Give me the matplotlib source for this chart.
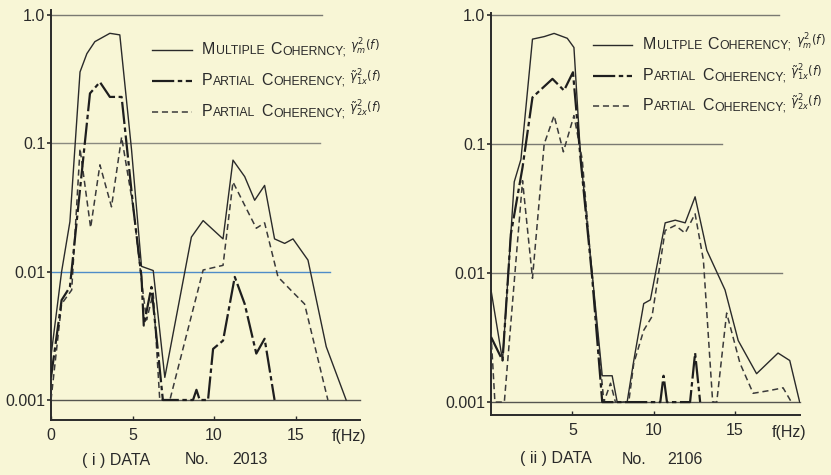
import numpy as np
import matplotlib
matplotlib.use("Agg")
import matplotlib.pyplot as plt
from matplotlib.lines import Line2D

plt.rcParams['font.family'] = ['Liberation Sans', 'DejaVu Sans']
plt.rcParams['mathtext.fontset'] = 'dejavusans'

W, H = 831, 475
BG = '#f8f6d6'
INK = '#2a2a2a'

# ---- data (frequency in Hz, coherency) ----
# (i) DATA No. 2013
f_mult_2013 = [0, 0.65, 1.16, 1.78, 2.20, 2.69, 3.61, 4.22, 4.94, 5.55, 6.27, 6.98, 8.61, 9.33,
               10.55, 11.16, 11.88, 12.49, 13.10, 13.71, 14.33, 14.84, 15.76, 16.88, 18.10]
mult_2013 = [0.0022, 0.010, 0.0245, 0.36, 0.50, 0.62, 0.72, 0.70, 0.089, 0.011, 0.0102, 0.0015, 0.0186, 0.025,
             0.018, 0.074, 0.055, 0.036, 0.047, 0.018, 0.0166, 0.018, 0.0123, 0.0026, 0.001]

f_p1x_2013 = [0, 0.65, 1.16, 2.39, 3.0, 3.61, 4.33, 5.04, 5.55, 5.69, 6.16, 6.86,
              8.71, 8.92, 9.12, 9.63, 9.94, 10.55, 11.27, 11.88, 12.59, 13.10, 13.71]
p1x_2013 = [0.0015, 0.006, 0.0076, 0.245, 0.30, 0.23, 0.23, 0.032, 0.0091, 0.0038, 0.0076, 0.001,
            0.001, 0.0012, 0.001, 0.001, 0.0025, 0.0029, 0.0091, 0.0056, 0.0023, 0.003, 0.001]

f_p2x_2013 = [0, 0.65, 1.27, 1.78, 2.43, 3.0, 3.71, 4.33, 5.04, 5.55, 5.86, 6.27, 6.67,
              7.29, 9.33, 10.55, 11.16, 12.18, 12.59, 13.10, 13.92, 14.84, 15.55, 16.98]
p2x_2013 = [0.001, 0.0056, 0.0072, 0.091, 0.022, 0.068, 0.032, 0.112, 0.032, 0.0085, 0.0042, 0.0068, 0.001,
            0.001, 0.0103, 0.0112, 0.050, 0.0276, 0.0218, 0.024, 0.0091, 0.0069, 0.0056, 0.001]

# (ii) DATA No. 2106
f_mult_2106 = [0, 0.71, 1.43, 1.84, 2.55, 3.27, 3.88, 4.69, 5.10, 5.51, 6.22, 6.84, 7.45, 7.76,
               8.37, 8.78, 9.39, 9.80, 10.71, 11.33, 11.94, 12.55, 13.27, 14.39, 15.20, 16.33,
               17.65, 18.37, 18.98]
mult_2106 = [0.0074, 0.0021, 0.051, 0.076, 0.65, 0.68, 0.72, 0.66, 0.56, 0.079, 0.010, 0.0016, 0.0016, 0.001,
             0.001, 0.0021, 0.0058, 0.0062, 0.0245, 0.0257, 0.0245, 0.039, 0.015, 0.0074, 0.003, 0.00166,
             0.0024, 0.0021, 0.001]

f_p1x_2106 = [0, 0.71, 1.22, 1.94, 2.55, 3.78, 4.49, 5.04, 5.51, 6.22, 6.84,
              10.41, 10.61, 10.82, 12.24, 12.55, 12.86]
p1x_2106 = [0.0032, 0.0021, 0.020, 0.066, 0.23, 0.32, 0.26, 0.36, 0.076, 0.0093, 0.001,
            0.001, 0.0016, 0.001, 0.001, 0.0024, 0.001]

f_p2x_2106 = [0, 0.24, 0.82, 1.94, 2.55, 3.27, 3.88, 4.45, 5.10, 5.61, 6.22, 6.94, 7.35, 7.65,
              8.47, 8.78, 9.39, 9.90, 10.71, 11.33, 11.94, 12.55, 13.06, 13.63, 13.88, 14.49,
              15.31, 16.12, 17.14, 17.96, 18.47]
p2x_2106 = [0.0034, 0.001, 0.001, 0.052, 0.0091, 0.10, 0.166, 0.087, 0.166, 0.076, 0.0093, 0.001, 0.0014, 0.001,
            0.001, 0.002, 0.0036, 0.0046, 0.0214, 0.0234, 0.0204, 0.0288, 0.0126, 0.001, 0.001, 0.0049,
            0.002, 0.00117, 0.00123, 0.00129, 0.001]

y_ticks = [1.0, 0.1, 0.01, 0.001]
y_ticklabels = ['1.0', '0.1', '0.01', '0.001']

legend_left = [("M", "ULTIPLE", "C", "OHERNCY;", r"$\gamma^2_m(f)$"),
               ("P", "ARTIAL", "C", "OHERENCY;", r"$\tilde{\gamma}^2_{1x}(f)$"),
               ("P", "ARTIAL", "C", "OHERENCY;", r"$\tilde{\gamma}^2_{2x}(f)$")]
legend_right = [("M", "ULTPLE", "C", "OHERENCY;", r"$\gamma^2_m(f)$"),
                ("P", "ARTIAL", "C", "OHERENCY;", r"$\tilde{\gamma}^2_{1x}(f)$"),
                ("P", "ARTIAL", "C", "OHERENCY;", r"$\tilde{\gamma}^2_{2x}(f)$")]

sty_mult = dict(color=INK, lw=1.0, ls='-')
sty_p1x = dict(color='#1e1e1e', lw=1.6, ls=(0, (10, 1.6, 2, 1.6)))
sty_p2x = dict(color='#3a3a3a', lw=1.1, ls=(0, (4, 2.5)))


def px(x, y):
    return x / W, 1 - y / H


fig = plt.figure(figsize=(W / 100, H / 100), dpi=100, facecolor=BG)


def make_axes(x0, x1, y0, y1, xmax, ylo, yhi, xticks, grid_ends, grid_colors):
    ax = fig.add_axes([x0 / W, 1 - y1 / H, (x1 - x0) / W, (y1 - y0) / H])
    ax.set_facecolor(BG)
    ax.set_yscale('log')
    ax.set_xlim(0, xmax)
    ax.set_ylim(ylo, yhi)
    for s in ['top', 'right']:
        ax.spines[s].set_visible(False)
    for s in ['left', 'bottom']:
        ax.spines[s].set_color(INK)
        ax.spines[s].set_linewidth(1.4)
    ax.set_yticks(y_ticks)
    ax.set_yticklabels(y_ticklabels)
    ax.yaxis.set_minor_locator(matplotlib.ticker.NullLocator())
    ax.tick_params(axis='y', length=3, width=1.2, direction='out', pad=1,
                   labelsize=11.5, colors=INK)
    ax.set_xticks(xticks)
    ax.set_xticklabels([str(t) for t in xticks])
    ax.tick_params(axis='x', length=3, width=1.0, direction='in', pad=6,
                   labelsize=11.5, colors=INK)
    for yv, xe, c in zip(y_ticks, grid_ends, grid_colors):
        ax.plot([0, xe], [yv, yv], color=c, lw=1.0, zorder=1, clip_on=False)
    return ax


axL = make_axes(51, 360, 10, 420, 18.95, 10 ** -3.156, 10 ** 0.039, [0, 5, 10, 15],
                [16.6, 16.5, 17.1, 18.95], ['#7a7a72', '#8a8a80', '#4f8cc8', '#555550'])
axR = make_axes(491, 800, 13, 415, 19.0, 10 ** -3.10, 10 ** 0.0155, [5, 10, 15],
                [17.7, 14.2, 17.9, 19.0], ['#7a7a72', '#7a7a72', '#7a7a72', '#555550'])

axL.plot(f_mult_2013, mult_2013, zorder=3, **sty_mult)
axL.plot(f_p1x_2013, p1x_2013, zorder=4, **sty_p1x)
axL.plot(f_p2x_2013, p2x_2013, zorder=3, **sty_p2x)

axR.plot(f_mult_2106, mult_2106, zorder=3, **sty_mult)
axR.plot(f_p1x_2106, p1x_2106, zorder=4, **sty_p1x)
axR.plot(f_p2x_2106, p2x_2106, zorder=3, **sty_p2x)


def smallcaps_row(ax, x, y, parts, big=11.5, small=8.8):
    first = ax.text(*px(x, y), parts[0], transform=fig.transFigure, fontsize=big,
                    va='bottom', ha='left', color=INK)
    prev = first
    seq = [(parts[1], small, 0.4), (parts[2], big, 4.0), (parts[3], small, 0.4), (parts[4], 8.5, 3.0)]
    for txt, size, gap in seq:
        prev = ax.annotate(txt, xy=(1, 0), xycoords=prev, xytext=(gap, 0),
                           textcoords='offset points', fontsize=size, va='bottom',
                           ha='left', color=INK, annotation_clip=False)


def legend(ax, x0, x1, xt, rows, labels):
    for (y, lab, sty) in zip(rows, labels, [sty_mult, sty_p1x, sty_p2x]):
        ln = Line2D([x0 / W, x1 / W], [1 - y / H, 1 - y / H], transform=fig.transFigure, **sty)
        fig.add_artist(ln)
        smallcaps_row(ax, xt, y + 7, lab)


legend(axL, 152, 192, 202, [50, 81, 112], legend_left)
legend(axR, 593, 632, 643, [45, 76, 106], legend_right)

# axis unit labels and captions
fig.text(*px(349, 437), 'f(Hz)', fontsize=11.5, ha='center', va='center', color=INK)
fig.text(*px(789, 432), 'f(Hz)', fontsize=11.5, ha='center', va='center', color=INK)

fig.text(*px(82, 460), '( i ) DATA', fontsize=11.5, ha='left', va='center', color=INK)
fig.text(*px(185, 460), 'No.', fontsize=11.5, ha='left', va='center', color=INK)
fig.text(*px(232, 460), '2013', fontsize=11.5, ha='left', va='center', color=INK)

fig.text(*px(520, 459), '( ii ) DATA', fontsize=11.5, ha='left', va='center', color=INK)
fig.text(*px(622, 459), 'No.', fontsize=11.5, ha='left', va='center', color=INK)
fig.text(*px(667, 459), '2106', fontsize=11.5, ha='left', va='center', color=INK)

fig.savefig('out.png', dpi=100, facecolor=BG)
